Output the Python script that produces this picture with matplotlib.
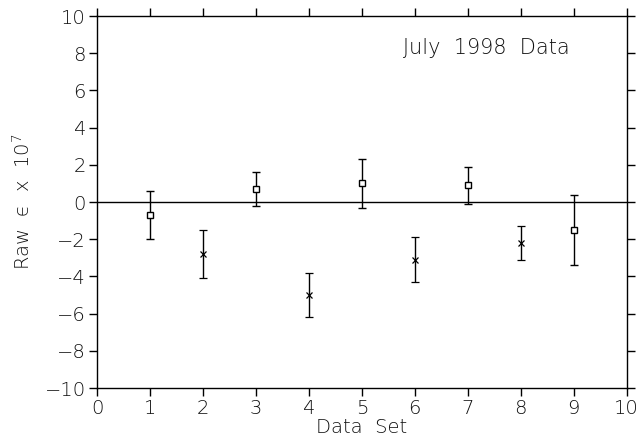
import matplotlib.pyplot as plt

# data sets: squares and crosses alternate
sq_x = [1, 3, 5, 7, 9]
sq_y = [-0.7, 0.7, 1.0, 0.9, -1.5]
sq_err = [1.3, 0.9, 1.3, 1.0, 1.9]

cr_x = [2, 4, 6, 8]
cr_y = [-2.8, -5.0, -3.1, -2.2]
cr_err = [1.3, 1.2, 1.2, 0.9]

xticks = list(range(0, 11))
yticks = list(range(-10, 11, 2))

plt.rcParams['font.weight'] = 'light'
plt.rcParams['axes.labelweight'] = 'light'
txt = '#111111'

fig = plt.figure(figsize=(6.39, 4.45), dpi=100)
ax = fig.add_axes([0.1518, 0.128, 0.829, 0.836])

ax.axhline(0, color='black', lw=1.0)
ax.errorbar(sq_x, sq_y, yerr=sq_err, fmt='s', mfc='white', mec='black', ms=5,
            mew=1.0, ecolor='black', elinewidth=1.0, capsize=3, capthick=1.0)
ax.errorbar(cr_x, cr_y, yerr=cr_err, fmt='x', color='black', ms=5,
            mew=0.9, ecolor='black', elinewidth=1.0, capsize=3, capthick=1.0)

ax.set_xlim(0, 10)
ax.set_ylim(-10, 10)
ax.set_xticks(xticks)
ax.set_yticks(yticks)
ax.set_yticklabels([str(t).replace('-', '\u2212') for t in yticks])
ax.tick_params(direction='out', length=6, width=1.0, labelsize=14, labelcolor=txt,
               top=True, right=True, labeltop=False, labelright=False, pad=2)
for s in ax.spines.values():
    s.set_linewidth(1.0)

ax.text(5.77, 8.3, 'July  1998  Data', fontsize=15, va='center', ha='left',
        color=txt, fontweight='light')
ax.set_xlabel('Data  Set', fontsize=14, labelpad=0, color=txt, fontweight='light')
ax.set_ylabel('Raw  \u03f5  x  10$^7$', fontsize=14, labelpad=8, color=txt,
              fontweight='light')

fig.savefig('out.png', dpi=100)
